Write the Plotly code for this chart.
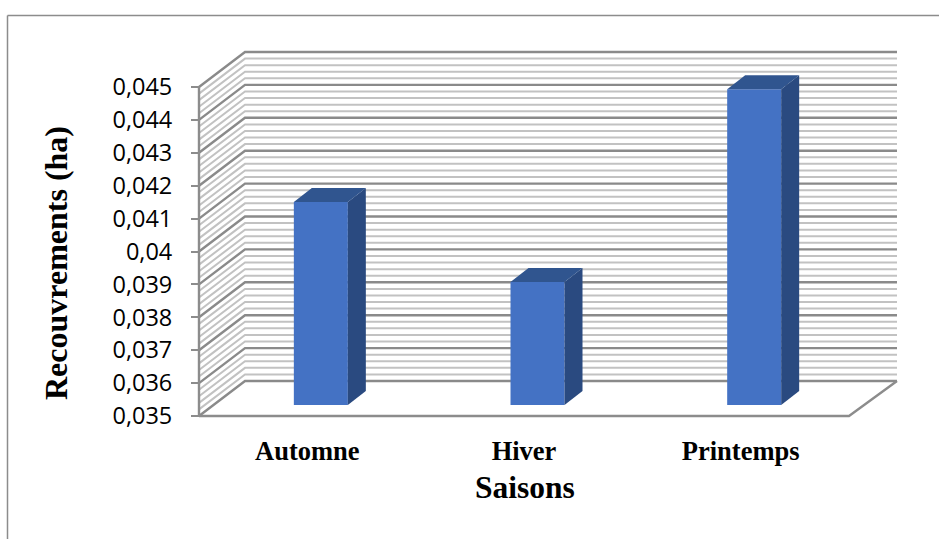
import plotly.graph_objects as go

# Chart data
saisons = ["Automne", "Hiver", "Printemps"]
recouvrements = [0.04117, 0.03874, 0.04460]
tick_values = [0.035, 0.036, 0.037, 0.038, 0.039, 0.04, 0.041, 0.042, 0.043, 0.044, 0.045]
tick_labels = ["0,035", "0,036", "0,037", "0,038", "0,039", "0,04", "0,041", "0,042", "0,043", "0,044", "0,045"]
category_positions = [0, 1, 2]

# Canvas and plot-area geometry; the plot area is a little larger than the
# drawn box so that its outline strokes are not clipped
WIDTH, HEIGHT = 939, 539
AXIS_PX, WALL_RIGHT_PX, FLOOR_PX, FLOOR_RIGHT_PX = 199, 897, 416, 849
LEFT, RIGHT, TOP, BOTTOM = 189, 905, 30, 422
PX_PER_CATEGORY = 216.67
PX_PER_UNIT = 32900.0
Y_BASE = 0.035
Y_TOP_AXIS = 0.045

x_front = -0.5
x_right = x_front + (WALL_RIGHT_PX - AXIS_PX) / PX_PER_CATEGORY
floor_right = x_front + (FLOOR_RIGHT_PX - AXIS_PX) / PX_PER_CATEGORY
x_range = [x_front - (AXIS_PX - LEFT) / PX_PER_CATEGORY, x_front + (RIGHT - AXIS_PX) / PX_PER_CATEGORY]
y_range = [Y_BASE - (BOTTOM - FLOOR_PX) / PX_PER_UNIT, Y_BASE + (FLOOR_PX - TOP) / PX_PER_UNIT]

# Oblique projection: how far the back wall and the bars recede
WALL_DX, WALL_DY = 46 / PX_PER_CATEGORY, 35 / PX_PER_UNIT
PLANE_DX, PLANE_DY = 13.5 / PX_PER_CATEGORY, 11 / PX_PER_UNIT
BAR_DX, BAR_DY = 18 / PX_PER_CATEGORY, 14 / PX_PER_UNIT
BAR_WIDTH = 54 / PX_PER_CATEGORY

MAJOR_COLOR = "#8a8a8a"
MINOR_COLOR = "#c2c2c2"
AXIS_COLOR = "#8c8c8c"
FRONT_COLOR = "#4472c4"
SIDE_COLOR = "#2a4a80"
TOPFACE_COLOR = "#30558f"

plot_w, plot_h = RIGHT - LEFT, BOTTOM - TOP


def paper_x(px):
    return (px - LEFT) / plot_w


def paper_y(px):
    return (BOTTOM - px) / plot_h


fig = go.Figure()


def line(xs, ys, color, width=2.0):
    fig.add_trace(go.Scatter(
        x=xs, y=ys, mode="lines", line=dict(color=color, width=width),
        hoverinfo="skip", showlegend=False,
    ))


# Side wall and back wall grid: one major line each 0.001, four minor lines between
x_back = x_front + WALL_DX
for step in range(1, 51):
    if step % 5 == 0:
        continue
    level = Y_BASE + step * 0.0002
    line([x_front, x_back, x_right], [level, level + WALL_DY, level + WALL_DY], MINOR_COLOR)
for step in range(0, 11):
    level = Y_BASE + step * 0.001
    line([x_front, x_back, x_right], [level, level + WALL_DY, level + WALL_DY], MAJOR_COLOR, 2.4)

# Floor outline and front edge of the value axis
line([x_front, x_front], [Y_BASE, Y_TOP_AXIS], AXIS_COLOR, 2.4)
line([x_front, floor_right, x_right], [Y_BASE, Y_BASE, Y_BASE + WALL_DY], AXIS_COLOR, 2.4)

# Bars sit on an overlaid plane, set back from the front of the floor
fig.add_trace(go.Bar(
    x=category_positions,
    y=[v - Y_BASE for v in recouvrements],
    base=Y_BASE,
    width=BAR_WIDTH,
    marker=dict(color=FRONT_COLOR, line=dict(width=0)),
    xaxis="x2", yaxis="y2",
    hovertext=[str(v).replace(".", ",") for v in recouvrements],
    hoverinfo="text",
    showlegend=False,
))

for pos, value in zip(category_positions, recouvrements):
    x0, x1 = pos - BAR_WIDTH / 2, pos + BAR_WIDTH / 2
    # right-hand side face
    fig.add_trace(go.Scatter(
        x=[x1, x1 + BAR_DX, x1 + BAR_DX, x1, x1],
        y=[Y_BASE, Y_BASE + BAR_DY, value + BAR_DY, value, Y_BASE],
        mode="lines", fill="toself", fillcolor=SIDE_COLOR, line=dict(width=0),
        xaxis="x2", yaxis="y2", hoverinfo="skip", showlegend=False,
    ))
    # top face
    fig.add_trace(go.Scatter(
        x=[x0, x1, x1 + BAR_DX, x0 + BAR_DX, x0],
        y=[value, value, value + BAR_DY, value + BAR_DY, value],
        mode="lines", fill="toself", fillcolor=TOPFACE_COLOR, line=dict(width=0),
        xaxis="x2", yaxis="y2", hoverinfo="skip", showlegend=False,
    ))

fig.update_layout(
    width=WIDTH, height=HEIGHT, autosize=False,
    margin=dict(l=LEFT, r=WIDTH - RIGHT, t=TOP, b=HEIGHT - BOTTOM, pad=0),
    paper_bgcolor="white", plot_bgcolor="white",
    showlegend=False,
    xaxis=dict(
        range=x_range, tickmode="array", tickvals=category_positions,
        ticktext=[f"<b>{name}</b>" for name in saisons],
        showgrid=False, zeroline=False, showline=False, ticks="", ticklabelstandoff=10,
        tickfont=dict(family="Liberation Serif", size=26.5, color="black"),
    ),
    yaxis=dict(
        range=y_range, tickmode="array", tickvals=tick_values, ticktext=tick_labels,
        anchor="free", position=paper_x(AXIS_PX),
        showgrid=False, zeroline=False, showline=False,
        ticks="outside", ticklen=8, tickwidth=2, tickcolor=AXIS_COLOR, ticklabelstandoff=14,
        tickfont=dict(family="Open Sans", size=23.5, color="black"),
    ),
    xaxis2=dict(
        range=[x_range[0] - PLANE_DX, x_range[1] - PLANE_DX],
        overlaying="x", visible=False,
    ),
    yaxis2=dict(
        range=[y_range[0] - PLANE_DY, y_range[1] - PLANE_DY],
        overlaying="y", visible=False,
    ),
    annotations=[
        dict(text="<b>Recouvrements (ha)</b>", textangle=-90,
             x=paper_x(56), y=paper_y(263), xref="paper", yref="paper",
             xanchor="center", yanchor="middle",
             font=dict(family="Liberation Serif", size=32, color="black"),
             showarrow=False),
        dict(text="<b>Saisons</b>",
             x=paper_x(525), y=paper_y(488), xref="paper", yref="paper",
             xanchor="center", yanchor="middle",
             font=dict(family="Liberation Serif", size=31.5, color="black"),
             showarrow=False),
    ],
)

# Chart frame: only its top and left edges fall inside the canvas
frame = dict(type="line", xref="paper", yref="paper", layer="below",
             line=dict(color=AXIS_COLOR, width=1.5))
fig.add_shape(**frame, x0=paper_x(7.5), x1=paper_x(WIDTH), y0=paper_y(15.5), y1=paper_y(15.5))
fig.add_shape(**frame, x0=paper_x(7.5), x1=paper_x(7.5), y0=paper_y(15.5), y1=paper_y(HEIGHT))

fig.write_html("out.html", config=dict(displayModeBar=False))
